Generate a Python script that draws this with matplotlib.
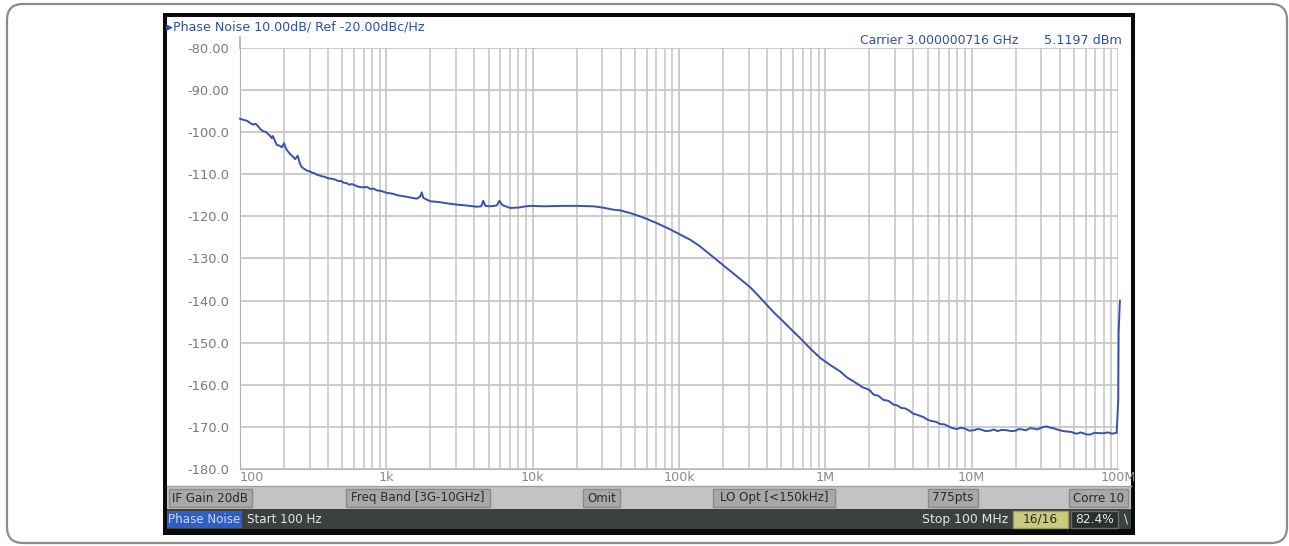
import matplotlib
matplotlib.use("Agg")
import matplotlib.pyplot as plt
from matplotlib.patches import FancyBboxPatch, Rectangle
from matplotlib.lines import Line2D

# ---------------- data ----------------
freq_hz = [100, 106, 112, 118, 123, 128, 133, 138, 144, 150, 155, 160, 165, 167, 172,
           178, 186, 193, 200, 206, 213, 220, 230, 238, 248, 256, 264, 272, 280,
           290, 301, 310, 320, 335, 352, 365, 380, 395, 412, 430, 450, 470, 490,
           512, 536, 560, 580, 620, 650, 696, 740, 780, 820, 860, 930, 1006, 1100,
           1200, 1307, 1450, 1614, 1700, 1746, 1790, 1990, 2300, 2600, 3030, 3500,
           4150, 4450, 4600, 4750, 5200, 5690, 5920, 6200, 7010, 8000, 9000, 9600,
           12000, 16100, 20000, 25900, 30000, 35600, 40000, 46400, 54200, 60300,
           70500, 85000, 101800, 120000, 139000, 165000, 201000, 250000, 306000,
           350000, 398000, 450000, 517000, 590000, 672000, 790000, 921000, 1.08e6,
           1.26e6, 1.40e6, 1.56e6, 1.80e6, 2.0e6, 2.13e6, 2.30e6, 2.50e6, 2.7e6,
           2.92e6, 3.1e6, 3.3e6, 3.5e6, 3.7e6, 4.0e6, 4.22e6, 4.45e6, 4.7e6, 5.0e6,
           5.3e6, 5.7e6, 6.09e6, 6.5e6, 7.0e6, 7.4e6, 7.92e6, 8.4e6, 9.0e6, 9.6e6,
           1.03e7, 1.1e7, 1.15e7, 1.25e7, 1.34e7, 1.42e7, 1.5e7, 1.6e7, 1.74e7,
           1.87e7, 2.0e7, 2.1e7, 2.2e7, 2.35e7, 2.51e7, 2.65e7, 2.8e7, 2.95e7,
           3.1e7, 3.27e7, 3.45e7, 3.6e7, 3.9e7, 4.22e7, 4.5e7, 4.8e7, 5.05e7,
           5.3e7, 5.55e7, 5.78e7, 6.1e7, 6.5e7, 6.9e7, 7.55e7, 8.0e7, 8.5e7,
           9.1e7, 9.8e7, 1.004e8, 1.01e8, 1.03e8]
phase_noise_dbc = [-96.8, -97.1, -97.3, -97.9, -98.2, -98.0, -98.6, -99.3, -99.8,
                   -99.9, -100.4, -100.8, -101.4, -100.9, -101.8, -103.0, -103.2,
                   -103.6, -102.6, -103.9, -104.6, -105.2, -105.8, -106.4, -105.6,
                   -107.3, -108.3, -108.6, -108.9, -109.2, -109.3, -109.6, -109.7,
                   -110.1, -110.3, -110.5, -110.6, -110.9, -111.0, -111.1, -111.3,
                   -111.6, -111.6, -112.0, -112.1, -112.5, -112.3, -112.7, -113.0,
                   -113.1, -113.0, -113.5, -113.4, -113.8, -114.0, -114.4, -114.6,
                   -115.0, -115.2, -115.5, -115.8, -115.3, -114.3, -115.6, -116.4,
                   -116.6, -116.9, -117.2, -117.4, -117.7, -117.6, -116.3, -117.5,
                   -117.6, -117.4, -116.3, -117.3, -118.0, -117.9, -117.6, -117.5,
                   -117.6, -117.5, -117.5, -117.6, -117.9, -118.4, -118.6, -119.2,
                   -120.0, -120.6, -121.6, -122.9, -124.3, -125.6, -127.1, -129.2,
                   -131.6, -134.3, -136.8, -138.9, -141.0, -143.0, -145.0, -147.0,
                   -148.9, -151.4, -153.6, -155.3, -156.8, -158.2, -159.2, -160.6,
                   -161.2, -162.3, -162.6, -163.6, -163.8, -164.7, -164.9, -165.5,
                   -165.6, -166.0, -166.9, -167.1, -167.4, -167.7, -168.3, -168.6,
                   -168.8, -169.3, -169.4, -169.9, -170.3, -170.5, -170.2, -170.4,
                   -170.9, -170.8, -170.5, -170.6, -171.0, -170.9, -170.6, -171.0,
                   -170.7, -170.8, -171.0, -170.9, -170.5, -170.6, -170.8, -170.3,
                   -170.4, -170.6, -170.3, -170.0, -169.9, -170.2, -170.3, -170.7,
                   -171.0, -171.1, -171.2, -171.5, -171.6, -171.3, -171.5, -171.8,
                   -171.8, -171.4, -171.5, -171.5, -171.3, -171.6, -171.4, -163.4,
                   -147.5, -140.0]

y_ticks = [-80, -90, -100, -110, -120, -130, -140, -150, -160, -170, -180]
y_tick_labels = ["-80.00", "-90.00", "-100.0", "-110.0", "-120.0", "-130.0",
                 "-140.0", "-150.0", "-160.0", "-170.0", "-180.0"]
x_ticks = [1e3, 1e4, 1e5, 1e6, 1e7, 1e8]
x_tick_labels = ["1k", "10k", "100k", "1M", "10M", "100M"]

title_text = "Phase Noise 10.00dB/ Ref -20.00dBc/Hz"
carrier_text = "Carrier 3.000000716 GHz"
power_text = "5.1197 dBm"
status_buttons = [("IF Gain 20dB", 169, 252), ("Freq Band [3G-10GHz]", 346, 490),
                  ("Omit", 583, 620), ("LO Opt [<150kHz]", 713, 835),
                  ("775pts", 928, 978), ("Corre 10", 1069, 1128)]

# ---------------- figure ----------------
W, H = 1289, 546
FONT = "DejaVu Sans"
fig = plt.figure(figsize=(W / 100, H / 100), dpi=100)
fig.patch.set_facecolor("white")

bg = fig.add_axes([0, 0, 1, 1])
bg.set_xlim(0, W)
bg.set_ylim(H, 0)
bg.axis("off")

# outer rounded frame
bg.add_patch(FancyBboxPatch((7, 4), 1280, 539,
                            boxstyle="round,pad=0,rounding_size=16",
                            facecolor="white", edgecolor="#8c8c8c", lw=1.6))
# instrument panel
bg.add_patch(Rectangle((163, 13), 972, 522, facecolor="#0a0a0a", edgecolor="none"))
bg.add_patch(Rectangle((167, 17), 964, 469, facecolor="white", edgecolor="none"))
# status bar
bg.add_patch(Rectangle((167, 486), 964, 23, facecolor="#c3c3c3", edgecolor="none"))
bg.add_line(Line2D([167, 1131], [486, 486], color="#a0a0a0", lw=1))
for label, x0, x1 in status_buttons:
    bg.add_patch(Rectangle((x0, 489), x1 - x0, 18, facecolor="#a8a8a8",
                           edgecolor="#8a8a8a", lw=1))
    bg.text((x0 + x1) / 2, 498, label, ha="center", va="center",
            fontsize=8.6, color="#2a2a2a", family=FONT)
# dark bar
bg.add_patch(Rectangle((167, 509), 964, 20, facecolor="#3c4040", edgecolor="none"))
bg.add_patch(Rectangle((167, 511), 75, 17, facecolor="#2f5ec4", edgecolor="none"))
bg.text(204, 519.5, "Phase Noise", ha="center", va="center", fontsize=8.6,
        color="#c9d8ff", family=FONT)
bg.text(247, 519.5, "Start 100 Hz", ha="left", va="center", fontsize=8.6,
        color="#e6e6e6", family=FONT)
bg.text(1008, 519.5, "Stop 100 MHz", ha="right", va="center", fontsize=8.9,
        color="#e6e6e6", family=FONT)
bg.add_patch(Rectangle((1013, 511), 55, 17, facecolor="#cbcb80", edgecolor="#9a9a60", lw=1))
bg.text(1040.5, 519.5, "16/16", ha="center", va="center", fontsize=8.8,
        color="#2a2a2a", family=FONT)
bg.add_patch(Rectangle((1071, 511), 47, 17, facecolor="#2b2f2f", edgecolor="#6a6a6a", lw=1))
bg.text(1094.5, 519.5, "82.4%", ha="center", va="center", fontsize=8.8,
        color="#e6e6e6", family=FONT)
bg.text(1126, 519.5, "\\", ha="center", va="center", fontsize=8.6,
        color="#e6e6e6", family=FONT)

# header texts
bg.text(166, 27, "\u25B6", ha="left", va="center", fontsize=6.5, color="#2f4fa8", family=FONT)
bg.text(173, 27, title_text, ha="left", va="center", fontsize=9.1,
        color="#2f4fa8", family=FONT)
bg.text(1018, 41, carrier_text, ha="right", va="center", fontsize=8.9,
        color="#2f4fa8", family=FONT)
bg.text(1122, 41, power_text, ha="right", va="center", fontsize=9.2,
        color="#2f4fa8", family=FONT)
# left spine extension above plot
bg.add_line(Line2D([240, 240], [37, 48], color="#b0b0b0", lw=1.2))

# ---------------- plot ----------------
x0p, x1p, y0p, y1p = 240, 1118, 48, 469
ax = fig.add_axes([x0p / W, 1 - y1p / H, (x1p - x0p) / W, (y1p - y0p) / H])
ax.set_facecolor("none")
ax.set_xscale("log")
ax.set_xlim(100, 1e8)
ax.set_ylim(-180, -80)
for s in ax.spines.values():
    s.set_visible(False)
ax.spines["left"].set_visible(True)
ax.spines["left"].set_color("#b0b0b0")
ax.spines["bottom"].set_visible(True)
ax.spines["bottom"].set_color("#b8b8b8")

ax.set_yticks(y_ticks)
ax.set_yticklabels(y_tick_labels, fontsize=9.4, color="#7a7a7a", family=FONT)
ax.set_xticks(x_ticks)
ax.set_xticklabels([])
ax.tick_params(axis="both", which="both", length=0)
ax.tick_params(axis="y", pad=8)
ax.grid(True, which="major", color="#c4c4c4", lw=1.2)
ax.grid(True, which="minor", axis="x", color="#c8c8c8", lw=1.2)
ax.set_axisbelow(True)

# x tick labels below axis
xt = ax.get_xaxis_transform()
for v, lab in zip(x_ticks, x_tick_labels):
    ax.text(v, -0.02, lab, transform=xt, ha="center", va="center",
            fontsize=9.2, color="#8a8a8a", family=FONT, clip_on=False)
ax.text(100, -0.02, "100", transform=xt, ha="left", va="center",
        fontsize=9.2, color="#8a8a8a", family=FONT, clip_on=False)

ax.plot(freq_hz, phase_noise_dbc, color="#3b50b0", lw=1.4, clip_on=False, zorder=5)

fig.savefig("out.png", dpi=100, facecolor="white")
